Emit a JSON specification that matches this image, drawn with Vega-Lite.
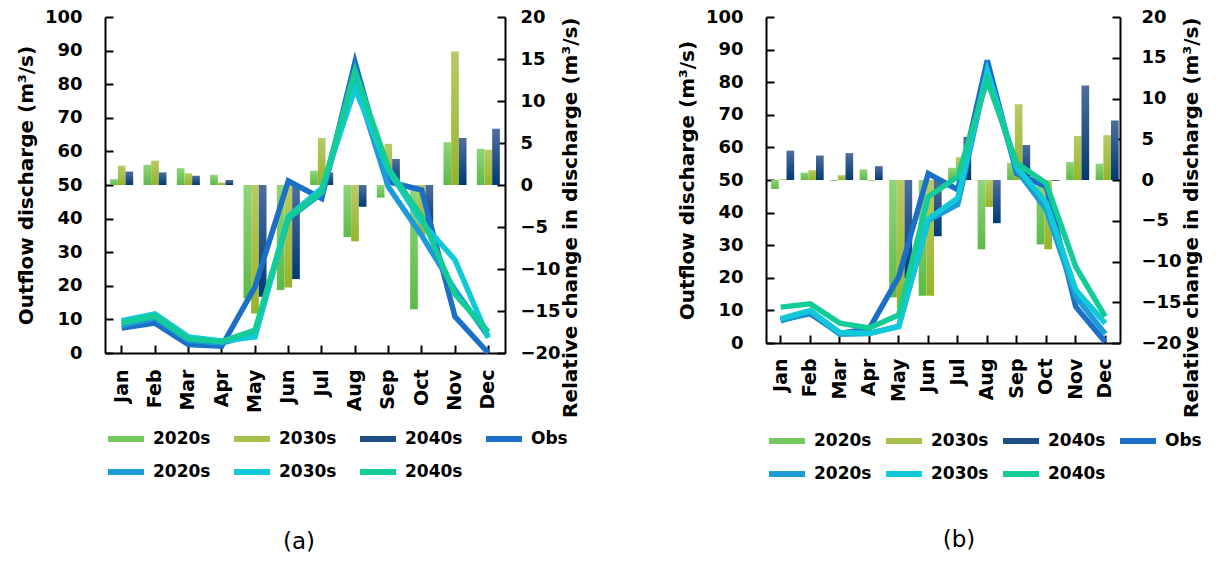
{
  "$schema": "https://vega.github.io/schema/vega-lite/v6.json",
  "padding": {"left": 16, "top": 8, "right": 5, "bottom": 5},
  "background": "white",
  "config": {
    "view": {"stroke": null},
    "axis": {
      "domainColor": "#000000",
      "domainWidth": 2,
      "tickColor": "#000000",
      "tickWidth": 2,
      "tickSize": -8,
      "grid": false,
      "labelFont": "DejaVu Sans",
      "labelFontWeight": "bold",
      "labelColor": "#000000",
      "labelFontSize": 18,
      "titleFont": "DejaVu Sans",
      "titleFontWeight": "bold",
      "titleColor": "#000000",
      "titleFontSize": 20
    },
    "legend": {
      "labelFont": "DejaVu Sans",
      "labelFontWeight": "bold",
      "labelFontSize": 17,
      "labelColor": "#000000"
    },
    "title": {"font": "DejaVu Sans", "fontSize": 23, "fontWeight": "normal", "color": "#000000"}
  },
  "datasets": {
    "bars_a": [
      {"month": "Jan", "series": "bar 2020s", "change": 0.7},
      {"month": "Feb", "series": "bar 2020s", "change": 2.4},
      {"month": "Mar", "series": "bar 2020s", "change": 2.0},
      {"month": "Apr", "series": "bar 2020s", "change": 1.2},
      {"month": "May", "series": "bar 2020s", "change": -13.5},
      {"month": "Jun", "series": "bar 2020s", "change": -12.5},
      {"month": "Jul", "series": "bar 2020s", "change": 1.7},
      {"month": "Aug", "series": "bar 2020s", "change": -6.2},
      {"month": "Sep", "series": "bar 2020s", "change": -1.5},
      {"month": "Oct", "series": "bar 2020s", "change": -14.8},
      {"month": "Nov", "series": "bar 2020s", "change": 5.1},
      {"month": "Dec", "series": "bar 2020s", "change": 4.3},
      {"month": "Jan", "series": "bar 2030s", "change": 2.3},
      {"month": "Feb", "series": "bar 2030s", "change": 2.9},
      {"month": "Mar", "series": "bar 2030s", "change": 1.4},
      {"month": "Apr", "series": "bar 2030s", "change": 0.3},
      {"month": "May", "series": "bar 2030s", "change": -15.3},
      {"month": "Jun", "series": "bar 2030s", "change": -12.2},
      {"month": "Jul", "series": "bar 2030s", "change": 5.6},
      {"month": "Aug", "series": "bar 2030s", "change": -6.7},
      {"month": "Sep", "series": "bar 2030s", "change": 4.9},
      {"month": "Oct", "series": "bar 2030s", "change": -6.0},
      {"month": "Nov", "series": "bar 2030s", "change": 15.9},
      {"month": "Dec", "series": "bar 2030s", "change": 4.2},
      {"month": "Jan", "series": "bar 2040s", "change": 1.6},
      {"month": "Feb", "series": "bar 2040s", "change": 1.5},
      {"month": "Mar", "series": "bar 2040s", "change": 1.1},
      {"month": "Apr", "series": "bar 2040s", "change": 0.6},
      {"month": "May", "series": "bar 2040s", "change": -13.3},
      {"month": "Jun", "series": "bar 2040s", "change": -11.2},
      {"month": "Jul", "series": "bar 2040s", "change": 1.5},
      {"month": "Aug", "series": "bar 2040s", "change": -2.6},
      {"month": "Sep", "series": "bar 2040s", "change": 3.1},
      {"month": "Oct", "series": "bar 2040s", "change": -5.0},
      {"month": "Nov", "series": "bar 2040s", "change": 5.6},
      {"month": "Dec", "series": "bar 2040s", "change": 6.7}
    ],
    "lines_a": [
      {"month": "Jan", "series": "Obs", "discharge": 7.4},
      {"month": "Feb", "series": "Obs", "discharge": 8.9},
      {"month": "Mar", "series": "Obs", "discharge": 2.5},
      {"month": "Apr", "series": "Obs", "discharge": 2.0},
      {"month": "May", "series": "Obs", "discharge": 19.7},
      {"month": "Jun", "series": "Obs", "discharge": 51.2},
      {"month": "Jul", "series": "Obs", "discharge": 46.0},
      {"month": "Aug", "series": "Obs", "discharge": 86.6},
      {"month": "Sep", "series": "Obs", "discharge": 51.0},
      {"month": "Oct", "series": "Obs", "discharge": 48.5},
      {"month": "Nov", "series": "Obs", "discharge": 10.8},
      {"month": "Dec", "series": "Obs", "discharge": 0.0},
      {"month": "Jan", "series": "line 2020s", "discharge": 8.2},
      {"month": "Feb", "series": "line 2020s", "discharge": 10.4},
      {"month": "Mar", "series": "line 2020s", "discharge": 3.8},
      {"month": "Apr", "series": "line 2020s", "discharge": 3.0},
      {"month": "May", "series": "line 2020s", "discharge": 5.5},
      {"month": "Jun", "series": "line 2020s", "discharge": 40.0},
      {"month": "Jul", "series": "line 2020s", "discharge": 47.5},
      {"month": "Aug", "series": "line 2020s", "discharge": 81.0},
      {"month": "Sep", "series": "line 2020s", "discharge": 49.5},
      {"month": "Oct", "series": "line 2020s", "discharge": 35.0},
      {"month": "Nov", "series": "line 2020s", "discharge": 18.8},
      {"month": "Dec", "series": "line 2020s", "discharge": 4.9},
      {"month": "Jan", "series": "line 2030s", "discharge": 9.6},
      {"month": "Feb", "series": "line 2030s", "discharge": 11.6},
      {"month": "Mar", "series": "line 2030s", "discharge": 4.8},
      {"month": "Apr", "series": "line 2030s", "discharge": 3.6},
      {"month": "May", "series": "line 2030s", "discharge": 4.8},
      {"month": "Jun", "series": "line 2030s", "discharge": 40.6},
      {"month": "Jul", "series": "line 2030s", "discharge": 49.0},
      {"month": "Aug", "series": "line 2030s", "discharge": 78.7},
      {"month": "Sep", "series": "line 2030s", "discharge": 54.5},
      {"month": "Oct", "series": "line 2030s", "discharge": 39.0},
      {"month": "Nov", "series": "line 2030s", "discharge": 27.7},
      {"month": "Dec", "series": "line 2030s", "discharge": 4.5},
      {"month": "Jan", "series": "line 2040s", "discharge": 9.0},
      {"month": "Feb", "series": "line 2040s", "discharge": 11.0},
      {"month": "Mar", "series": "line 2040s", "discharge": 4.2},
      {"month": "Apr", "series": "line 2040s", "discharge": 3.4},
      {"month": "May", "series": "line 2040s", "discharge": 6.8},
      {"month": "Jun", "series": "line 2040s", "discharge": 40.3},
      {"month": "Jul", "series": "line 2040s", "discharge": 48.0},
      {"month": "Aug", "series": "line 2040s", "discharge": 84.0},
      {"month": "Sep", "series": "line 2040s", "discharge": 55.0},
      {"month": "Oct", "series": "line 2040s", "discharge": 40.6},
      {"month": "Nov", "series": "line 2040s", "discharge": 17.5},
      {"month": "Dec", "series": "line 2040s", "discharge": 6.3}
    ],
    "bars_b": [
      {"month": "Jan", "series": "bar 2020s", "change": -1.1},
      {"month": "Feb", "series": "bar 2020s", "change": 0.9},
      {"month": "Mar", "series": "bar 2020s", "change": -0.1},
      {"month": "Apr", "series": "bar 2020s", "change": 1.3},
      {"month": "May", "series": "bar 2020s", "change": -14.4},
      {"month": "Jun", "series": "bar 2020s", "change": -14.2},
      {"month": "Jul", "series": "bar 2020s", "change": 1.5},
      {"month": "Aug", "series": "bar 2020s", "change": -8.5},
      {"month": "Sep", "series": "bar 2020s", "change": 2.1},
      {"month": "Oct", "series": "bar 2020s", "change": -7.9},
      {"month": "Nov", "series": "bar 2020s", "change": 2.2},
      {"month": "Dec", "series": "bar 2020s", "change": 2.0},
      {"month": "Jan", "series": "bar 2030s", "change": 0.1},
      {"month": "Feb", "series": "bar 2030s", "change": 1.2},
      {"month": "Mar", "series": "bar 2030s", "change": 0.6},
      {"month": "Apr", "series": "bar 2030s", "change": -0.1},
      {"month": "May", "series": "bar 2030s", "change": -15.7},
      {"month": "Jun", "series": "bar 2030s", "change": -14.2},
      {"month": "Jul", "series": "bar 2030s", "change": 2.8},
      {"month": "Aug", "series": "bar 2030s", "change": -3.3},
      {"month": "Sep", "series": "bar 2030s", "change": 9.3},
      {"month": "Oct", "series": "bar 2030s", "change": -8.5},
      {"month": "Nov", "series": "bar 2030s", "change": 5.4},
      {"month": "Dec", "series": "bar 2030s", "change": 5.5},
      {"month": "Jan", "series": "bar 2040s", "change": 3.6},
      {"month": "Feb", "series": "bar 2040s", "change": 3.0},
      {"month": "Mar", "series": "bar 2040s", "change": 3.3},
      {"month": "Apr", "series": "bar 2040s", "change": 1.7},
      {"month": "May", "series": "bar 2040s", "change": -12.1},
      {"month": "Jun", "series": "bar 2040s", "change": -6.9},
      {"month": "Jul", "series": "bar 2040s", "change": 5.3},
      {"month": "Aug", "series": "bar 2040s", "change": -5.3},
      {"month": "Sep", "series": "bar 2040s", "change": 4.3},
      {"month": "Oct", "series": "bar 2040s", "change": -0.1},
      {"month": "Nov", "series": "bar 2040s", "change": 11.6},
      {"month": "Dec", "series": "bar 2040s", "change": 7.3}
    ],
    "lines_b": [
      {"month": "Jan", "series": "Obs", "discharge": 7.0},
      {"month": "Feb", "series": "Obs", "discharge": 9.0},
      {"month": "Mar", "series": "Obs", "discharge": 2.9},
      {"month": "Apr", "series": "Obs", "discharge": 4.4},
      {"month": "May", "series": "Obs", "discharge": 20.3},
      {"month": "Jun", "series": "Obs", "discharge": 52.0},
      {"month": "Jul", "series": "Obs", "discharge": 47.0},
      {"month": "Aug", "series": "Obs", "discharge": 86.7},
      {"month": "Sep", "series": "Obs", "discharge": 52.0},
      {"month": "Oct", "series": "Obs", "discharge": 48.0},
      {"month": "Nov", "series": "Obs", "discharge": 11.1},
      {"month": "Dec", "series": "Obs", "discharge": 0.3},
      {"month": "Jan", "series": "line 2020s", "discharge": 6.8},
      {"month": "Feb", "series": "line 2020s", "discharge": 9.5},
      {"month": "Mar", "series": "line 2020s", "discharge": 2.7},
      {"month": "Apr", "series": "line 2020s", "discharge": 2.9},
      {"month": "May", "series": "line 2020s", "discharge": 5.2},
      {"month": "Jun", "series": "line 2020s", "discharge": 37.6},
      {"month": "Jul", "series": "line 2020s", "discharge": 42.5},
      {"month": "Aug", "series": "line 2020s", "discharge": 83.1},
      {"month": "Sep", "series": "line 2020s", "discharge": 53.0},
      {"month": "Oct", "series": "line 2020s", "discharge": 41.0},
      {"month": "Nov", "series": "line 2020s", "discharge": 14.2},
      {"month": "Dec", "series": "line 2020s", "discharge": 2.8},
      {"month": "Jan", "series": "line 2030s", "discharge": 7.5},
      {"month": "Feb", "series": "line 2030s", "discharge": 10.0},
      {"month": "Mar", "series": "line 2030s", "discharge": 3.2},
      {"month": "Apr", "series": "line 2030s", "discharge": 3.0},
      {"month": "May", "series": "line 2030s", "discharge": 5.0},
      {"month": "Jun", "series": "line 2030s", "discharge": 38.0},
      {"month": "Jul", "series": "line 2030s", "discharge": 44.5},
      {"month": "Aug", "series": "line 2030s", "discharge": 83.5},
      {"month": "Sep", "series": "line 2030s", "discharge": 54.0},
      {"month": "Oct", "series": "line 2030s", "discharge": 43.0},
      {"month": "Nov", "series": "line 2030s", "discharge": 16.3},
      {"month": "Dec", "series": "line 2030s", "discharge": 6.0},
      {"month": "Jan", "series": "line 2040s", "discharge": 11.0},
      {"month": "Feb", "series": "line 2040s", "discharge": 12.0},
      {"month": "Mar", "series": "line 2040s", "discharge": 6.1},
      {"month": "Apr", "series": "line 2040s", "discharge": 4.6},
      {"month": "May", "series": "line 2040s", "discharge": 8.6},
      {"month": "Jun", "series": "line 2040s", "discharge": 44.9},
      {"month": "Jul", "series": "line 2040s", "discharge": 51.0},
      {"month": "Aug", "series": "line 2040s", "discharge": 80.6},
      {"month": "Sep", "series": "line 2040s", "discharge": 55.1},
      {"month": "Oct", "series": "line 2040s", "discharge": 49.0},
      {"month": "Nov", "series": "line 2040s", "discharge": 23.4},
      {"month": "Dec", "series": "line 2040s", "discharge": 8.1}
    ]
  },
  "spacing": 96,
  "hconcat": [
    {
      "width": 400,
      "height": 336,
      "title": {"text": "(a)", "orient": "bottom", "offset": 47, "dx": -6},
      "layer": [
        {
          "data": {"name": "bars_a"},
          "encoding": {
            "x": {
              "field": "month", "type": "nominal",
              "sort": ["Jan","Feb","Mar","Apr","May","Jun","Jul","Aug","Sep","Oct","Nov","Dec"],
              "scale": {"paddingInner": 0, "paddingOuter": 0},
              "axis": {"title": null, "labelAngle": 270, "labelFontSize": 19, "labelPadding": 24}
            },
            "xOffset": {
              "field": "series", "type": "nominal",
              "scale": {"domain": ["bar 2020s", "bar 2030s", "bar 2040s"], "paddingInner": 0, "paddingOuter": 0.67}
            },
            "y": {
              "field": "change", "type": "quantitative",
              "scale": {"domain": [-20, 20]},
              "axis": {
                "orient": "right", "values": [-20,-15,-10,-5,0,5,10,15,20],
                "labelPadding": 23,
                "title": "Relative change in discharge (m³/s)",
                "titleAngle": 270, "titleAnchor": "end", "titleBaseline": "top", "titlePadding": 0
              }
            }
          },
          "layer": [
            {
              "transform": [{"filter": "datum.series === 'bar 2020s'"}],
              "mark": {"type": "bar", "color": {"gradient": "linear", "x1": 0, "y1": 0, "x2": 0, "y2": 1, "stops": [{"offset": 0, "color": "#8fd57a"}, {"offset": 1, "color": "#5cbb47"}]}}
            },
            {
              "transform": [{"filter": "datum.series === 'bar 2030s'"}],
              "mark": {"type": "bar", "color": {"gradient": "linear", "x1": 0, "y1": 0, "x2": 0, "y2": 1, "stops": [{"offset": 0, "color": "#b7cb66"}, {"offset": 1, "color": "#95b42a"}]}}
            },
            {
              "transform": [{"filter": "datum.series === 'bar 2040s'"}],
              "mark": {"type": "bar", "color": {"gradient": "linear", "x1": 0, "y1": 0, "x2": 0, "y2": 1, "stops": [{"offset": 0, "color": "#4f6e9e"}, {"offset": 1, "color": "#013a74"}]}}
            }
          ]
        },
        {
          "data": {"name": "lines_a"},
          "mark": {"type": "line", "strokeWidth": 5.5, "strokeJoin": "miter"},
          "encoding": {
            "x": {
              "field": "month", "type": "nominal",
              "sort": ["Jan","Feb","Mar","Apr","May","Jun","Jul","Aug","Sep","Oct","Nov","Dec"]
            },
            "y": {
              "field": "discharge", "type": "quantitative",
              "scale": {"domain": [0, 100]},
              "axis": {
                "orient": "left", "values": [0,10,20,30,40,50,60,70,80,90,100],
                "labelPadding": 31, "titlePadding": 8,
                "title": "Outflow discharge (m³/s)"
              }
            },
            "color": {
              "field": "series", "type": "nominal",
              "scale": {
                "domain": ["bar 2020s", "bar 2030s", "bar 2040s", "Obs", "line 2020s", "line 2030s", "line 2040s"],
                "range": ["#76c961", "#a8c14a", "#204f86", "#1b6fc6", "#1b9bd7", "#12c9d9", "#14cc97"]
              },
              "legend": {
                "title": null, "orient": "bottom", "direction": "horizontal", "columns": 4, "offset": 5,
                "symbolSize": 1296, "symbolStrokeWidth": 6, "labelOffset": 6,
                "columnPadding": 11, "rowPadding": 0,
                "labelExpr": "replace(replace(datum.label, 'bar ', ''), 'line ', '')"
              }
            }
          }
        }
      ],
      "resolve": {"scale": {"y": "independent"}}
    },
    {
      "width": 354,
      "height": 326,
      "title": {"text": "(b)", "orient": "bottom", "offset": 43, "dx": 16},
      "layer": [
        {
          "data": {"name": "bars_b"},
          "encoding": {
            "x": {
              "field": "month", "type": "nominal",
              "sort": ["Jan","Feb","Mar","Apr","May","Jun","Jul","Aug","Sep","Oct","Nov","Dec"],
              "scale": {"paddingInner": 0, "paddingOuter": 0},
              "axis": {"title": null, "labelAngle": 270, "labelFontSize": 19, "labelPadding": 23}
            },
            "xOffset": {
              "field": "series", "type": "nominal",
              "scale": {"domain": ["bar 2020s", "bar 2030s", "bar 2040s"], "paddingInner": 0, "paddingOuter": 1.0}
            },
            "y": {
              "field": "change", "type": "quantitative",
              "scale": {"domain": [-20, 20]},
              "axis": {
                "orient": "right", "values": [-20,-15,-10,-5,0,5,10,15,20],
                "labelPadding": 29,
                "title": "Relative change in discharge (m³/s)",
                "titleAngle": 270, "titleAnchor": "end", "titleBaseline": "top", "titlePadding": 0
              }
            }
          },
          "layer": [
            {
              "transform": [{"filter": "datum.series === 'bar 2020s'"}],
              "mark": {"type": "bar", "color": {"gradient": "linear", "x1": 0, "y1": 0, "x2": 0, "y2": 1, "stops": [{"offset": 0, "color": "#8fd57a"}, {"offset": 1, "color": "#5cbb47"}]}}
            },
            {
              "transform": [{"filter": "datum.series === 'bar 2030s'"}],
              "mark": {"type": "bar", "color": {"gradient": "linear", "x1": 0, "y1": 0, "x2": 0, "y2": 1, "stops": [{"offset": 0, "color": "#b7cb66"}, {"offset": 1, "color": "#95b42a"}]}}
            },
            {
              "transform": [{"filter": "datum.series === 'bar 2040s'"}],
              "mark": {"type": "bar", "color": {"gradient": "linear", "x1": 0, "y1": 0, "x2": 0, "y2": 1, "stops": [{"offset": 0, "color": "#4f6e9e"}, {"offset": 1, "color": "#013a74"}]}}
            }
          ]
        },
        {
          "data": {"name": "lines_b"},
          "mark": {"type": "line", "strokeWidth": 5.5, "strokeJoin": "miter"},
          "encoding": {
            "x": {
              "field": "month", "type": "nominal",
              "sort": ["Jan","Feb","Mar","Apr","May","Jun","Jul","Aug","Sep","Oct","Nov","Dec"]
            },
            "y": {
              "field": "discharge", "type": "quantitative",
              "scale": {"domain": [0, 100]},
              "axis": {
                "orient": "left", "values": [0,10,20,30,40,50,60,70,80,90,100],
                "labelPadding": 31, "titlePadding": 8,
                "title": "Outflow discharge (m³/s)"
              }
            },
            "color": {
              "field": "series", "type": "nominal",
              "legend": {
                "title": null, "orient": "bottom", "direction": "horizontal", "columns": 4, "offset": 18,
                "symbolSize": 1296, "symbolStrokeWidth": 6, "labelOffset": 6,
                "columnPadding": 2, "rowPadding": 0,
                "labelExpr": "replace(replace(datum.label, 'bar ', ''), 'line ', '')"
              }
            }
          }
        }
      ],
      "resolve": {"scale": {"y": "independent"}}
    }
  ],
  "resolve": {"legend": {"color": "independent"}}
}
